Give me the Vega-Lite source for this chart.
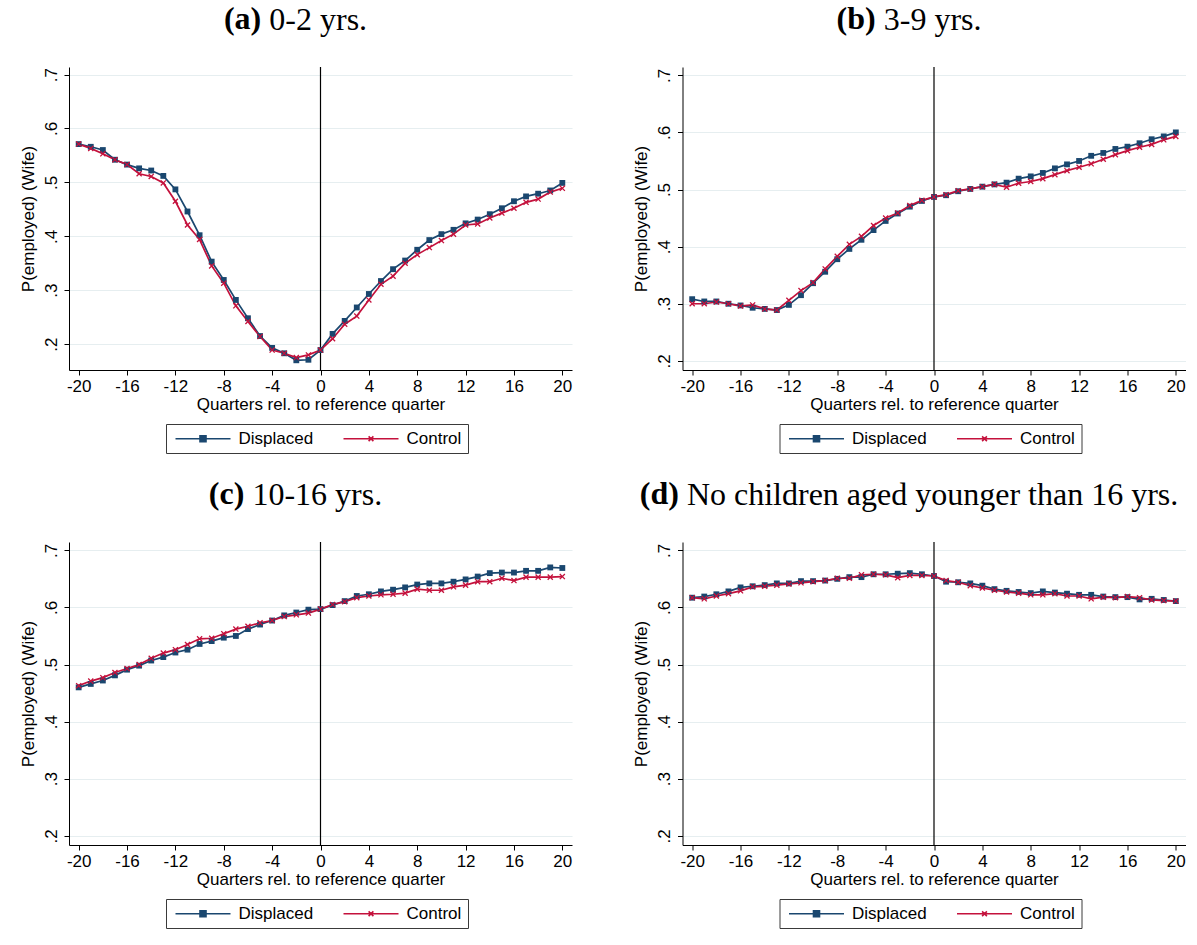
{
  "$schema": "https://vega.github.io/schema/vega-lite/v6.json",
  "background": "white",
  "padding": {"left": 18, "top": 3, "right": 0, "bottom": 0},
  "datasets": {
    "a": [
      {"q": -20, "Displaced": 0.571, "Control": 0.571}, {"q": -19, "Displaced": 0.566, "Control": 0.563},
      {"q": -18, "Displaced": 0.560, "Control": 0.553}, {"q": -17, "Displaced": 0.542, "Control": 0.542},
      {"q": -16, "Displaced": 0.533, "Control": 0.533}, {"q": -15, "Displaced": 0.526, "Control": 0.516},
      {"q": -14, "Displaced": 0.522, "Control": 0.511}, {"q": -13, "Displaced": 0.512, "Control": 0.499},
      {"q": -12, "Displaced": 0.487, "Control": 0.465}, {"q": -11, "Displaced": 0.446, "Control": 0.421},
      {"q": -10, "Displaced": 0.402, "Control": 0.394}, {"q": -9, "Displaced": 0.353, "Control": 0.345},
      {"q": -8, "Displaced": 0.319, "Control": 0.313}, {"q": -7, "Displaced": 0.282, "Control": 0.271},
      {"q": -6, "Displaced": 0.248, "Control": 0.242}, {"q": -5, "Displaced": 0.215, "Control": 0.214},
      {"q": -4, "Displaced": 0.193, "Control": 0.189}, {"q": -3, "Displaced": 0.183, "Control": 0.183},
      {"q": -2, "Displaced": 0.170, "Control": 0.175}, {"q": -1, "Displaced": 0.171, "Control": 0.180},
      {"q": 0, "Displaced": 0.189, "Control": 0.189}, {"q": 1, "Displaced": 0.219, "Control": 0.210},
      {"q": 2, "Displaced": 0.243, "Control": 0.237}, {"q": 3, "Displaced": 0.268, "Control": 0.252},
      {"q": 4, "Displaced": 0.293, "Control": 0.282}, {"q": 5, "Displaced": 0.317, "Control": 0.311},
      {"q": 6, "Displaced": 0.339, "Control": 0.326}, {"q": 7, "Displaced": 0.355, "Control": 0.350},
      {"q": 8, "Displaced": 0.375, "Control": 0.366}, {"q": 9, "Displaced": 0.393, "Control": 0.379},
      {"q": 10, "Displaced": 0.404, "Control": 0.392}, {"q": 11, "Displaced": 0.412, "Control": 0.404},
      {"q": 12, "Displaced": 0.424, "Control": 0.421}, {"q": 13, "Displaced": 0.431, "Control": 0.423},
      {"q": 14, "Displaced": 0.441, "Control": 0.434}, {"q": 15, "Displaced": 0.452, "Control": 0.443},
      {"q": 16, "Displaced": 0.465, "Control": 0.452}, {"q": 17, "Displaced": 0.474, "Control": 0.463},
      {"q": 18, "Displaced": 0.479, "Control": 0.469}, {"q": 19, "Displaced": 0.485, "Control": 0.482},
      {"q": 20, "Displaced": 0.499, "Control": 0.489}
    ],
    "b": [
      {"q": -20, "Displaced": 0.308, "Control": 0.300}, {"q": -19, "Displaced": 0.304, "Control": 0.300},
      {"q": -18, "Displaced": 0.304, "Control": 0.303}, {"q": -17, "Displaced": 0.300, "Control": 0.300},
      {"q": -16, "Displaced": 0.297, "Control": 0.296}, {"q": -15, "Displaced": 0.293, "Control": 0.298},
      {"q": -14, "Displaced": 0.291, "Control": 0.291}, {"q": -13, "Displaced": 0.289, "Control": 0.289},
      {"q": -12, "Displaced": 0.298, "Control": 0.306}, {"q": -11, "Displaced": 0.315, "Control": 0.323},
      {"q": -10, "Displaced": 0.336, "Control": 0.337}, {"q": -9, "Displaced": 0.356, "Control": 0.361},
      {"q": -8, "Displaced": 0.378, "Control": 0.383}, {"q": -7, "Displaced": 0.396, "Control": 0.404},
      {"q": -6, "Displaced": 0.412, "Control": 0.418}, {"q": -5, "Displaced": 0.429, "Control": 0.437},
      {"q": -4, "Displaced": 0.445, "Control": 0.450}, {"q": -3, "Displaced": 0.458, "Control": 0.459},
      {"q": -2, "Displaced": 0.470, "Control": 0.472}, {"q": -1, "Displaced": 0.480, "Control": 0.481},
      {"q": 0, "Displaced": 0.487, "Control": 0.487}, {"q": 1, "Displaced": 0.490, "Control": 0.491},
      {"q": 2, "Displaced": 0.497, "Control": 0.498}, {"q": 3, "Displaced": 0.501, "Control": 0.501},
      {"q": 4, "Displaced": 0.505, "Control": 0.505}, {"q": 5, "Displaced": 0.509, "Control": 0.509},
      {"q": 6, "Displaced": 0.512, "Control": 0.504}, {"q": 7, "Displaced": 0.519, "Control": 0.511},
      {"q": 8, "Displaced": 0.523, "Control": 0.514}, {"q": 9, "Displaced": 0.529, "Control": 0.519},
      {"q": 10, "Displaced": 0.537, "Control": 0.526}, {"q": 11, "Displaced": 0.544, "Control": 0.533},
      {"q": 12, "Displaced": 0.550, "Control": 0.539}, {"q": 13, "Displaced": 0.559, "Control": 0.545},
      {"q": 14, "Displaced": 0.564, "Control": 0.553}, {"q": 15, "Displaced": 0.571, "Control": 0.561},
      {"q": 16, "Displaced": 0.575, "Control": 0.568}, {"q": 17, "Displaced": 0.581, "Control": 0.574},
      {"q": 18, "Displaced": 0.588, "Control": 0.579}, {"q": 19, "Displaced": 0.593, "Control": 0.587},
      {"q": 20, "Displaced": 0.600, "Control": 0.593}
    ],
    "c": [
      {"q": -20, "Displaced": 0.460, "Control": 0.463}, {"q": -19, "Displaced": 0.466, "Control": 0.471},
      {"q": -18, "Displaced": 0.472, "Control": 0.477}, {"q": -17, "Displaced": 0.481, "Control": 0.486},
      {"q": -16, "Displaced": 0.491, "Control": 0.493}, {"q": -15, "Displaced": 0.498, "Control": 0.500},
      {"q": -14, "Displaced": 0.507, "Control": 0.511}, {"q": -13, "Displaced": 0.513, "Control": 0.520},
      {"q": -12, "Displaced": 0.521, "Control": 0.526}, {"q": -11, "Displaced": 0.526, "Control": 0.535},
      {"q": -10, "Displaced": 0.536, "Control": 0.545}, {"q": -9, "Displaced": 0.541, "Control": 0.546},
      {"q": -8, "Displaced": 0.547, "Control": 0.554}, {"q": -7, "Displaced": 0.550, "Control": 0.562},
      {"q": -6, "Displaced": 0.562, "Control": 0.567}, {"q": -5, "Displaced": 0.570, "Control": 0.573},
      {"q": -4, "Displaced": 0.577, "Control": 0.577}, {"q": -3, "Displaced": 0.586, "Control": 0.584},
      {"q": -2, "Displaced": 0.591, "Control": 0.587}, {"q": -1, "Displaced": 0.596, "Control": 0.590},
      {"q": 0, "Displaced": 0.597, "Control": 0.597}, {"q": 1, "Displaced": 0.604, "Control": 0.605},
      {"q": 2, "Displaced": 0.611, "Control": 0.610}, {"q": 3, "Displaced": 0.620, "Control": 0.617},
      {"q": 4, "Displaced": 0.623, "Control": 0.620}, {"q": 5, "Displaced": 0.628, "Control": 0.622},
      {"q": 6, "Displaced": 0.631, "Control": 0.623}, {"q": 7, "Displaced": 0.635, "Control": 0.625},
      {"q": 8, "Displaced": 0.640, "Control": 0.632}, {"q": 9, "Displaced": 0.642, "Control": 0.630},
      {"q": 10, "Displaced": 0.642, "Control": 0.630}, {"q": 11, "Displaced": 0.645, "Control": 0.636},
      {"q": 12, "Displaced": 0.649, "Control": 0.639}, {"q": 13, "Displaced": 0.654, "Control": 0.645},
      {"q": 14, "Displaced": 0.660, "Control": 0.645}, {"q": 15, "Displaced": 0.661, "Control": 0.651},
      {"q": 16, "Displaced": 0.661, "Control": 0.647}, {"q": 17, "Displaced": 0.664, "Control": 0.653},
      {"q": 18, "Displaced": 0.664, "Control": 0.653}, {"q": 19, "Displaced": 0.670, "Control": 0.653},
      {"q": 20, "Displaced": 0.669, "Control": 0.654}
    ],
    "d": [
      {"q": -20, "Displaced": 0.617, "Control": 0.617}, {"q": -19, "Displaced": 0.619, "Control": 0.615},
      {"q": -18, "Displaced": 0.623, "Control": 0.620}, {"q": -17, "Displaced": 0.628, "Control": 0.624},
      {"q": -16, "Displaced": 0.635, "Control": 0.629}, {"q": -15, "Displaced": 0.637, "Control": 0.636},
      {"q": -14, "Displaced": 0.639, "Control": 0.637}, {"q": -13, "Displaced": 0.642, "Control": 0.639},
      {"q": -12, "Displaced": 0.642, "Control": 0.641}, {"q": -11, "Displaced": 0.646, "Control": 0.643},
      {"q": -10, "Displaced": 0.646, "Control": 0.645}, {"q": -9, "Displaced": 0.647, "Control": 0.647},
      {"q": -8, "Displaced": 0.650, "Control": 0.651}, {"q": -7, "Displaced": 0.653, "Control": 0.651},
      {"q": -6, "Displaced": 0.653, "Control": 0.657}, {"q": -5, "Displaced": 0.658, "Control": 0.658},
      {"q": -4, "Displaced": 0.658, "Control": 0.657}, {"q": -3, "Displaced": 0.659, "Control": 0.652},
      {"q": -2, "Displaced": 0.660, "Control": 0.656}, {"q": -1, "Displaced": 0.658, "Control": 0.656},
      {"q": 0, "Displaced": 0.655, "Control": 0.655}, {"q": 1, "Displaced": 0.645, "Control": 0.647},
      {"q": 2, "Displaced": 0.644, "Control": 0.644}, {"q": 3, "Displaced": 0.642, "Control": 0.638},
      {"q": 4, "Displaced": 0.638, "Control": 0.634}, {"q": 5, "Displaced": 0.632, "Control": 0.630},
      {"q": 6, "Displaced": 0.629, "Control": 0.627}, {"q": 7, "Displaced": 0.627, "Control": 0.625},
      {"q": 8, "Displaced": 0.625, "Control": 0.622}, {"q": 9, "Displaced": 0.628, "Control": 0.622},
      {"q": 10, "Displaced": 0.626, "Control": 0.624}, {"q": 11, "Displaced": 0.624, "Control": 0.620},
      {"q": 12, "Displaced": 0.622, "Control": 0.620}, {"q": 13, "Displaced": 0.622, "Control": 0.615},
      {"q": 14, "Displaced": 0.619, "Control": 0.618}, {"q": 15, "Displaced": 0.618, "Control": 0.617},
      {"q": 16, "Displaced": 0.618, "Control": 0.619}, {"q": 17, "Displaced": 0.614, "Control": 0.617},
      {"q": 18, "Displaced": 0.615, "Control": 0.613}, {"q": 19, "Displaced": 0.613, "Control": 0.612},
      {"q": 20, "Displaced": 0.611, "Control": 0.611}
    ]
  },
  "spacing": 24,
  "resolve": {"scale": {"x": "independent", "y": "independent", "color": "independent"}, "legend": {"color": "independent"}},
  "vconcat": [
    {
      "spacing": 59.5,
      "resolve": {"scale": {"x": "independent", "y": "independent", "color": "independent"}, "legend": {"color": "independent"}},
      "hconcat": [
        {
          "title": {"text": "(a)", "fontWeight": "bold", "offset": 0, "dx": -52.9, "dy": 32},
          "resolve": {"scale": {"x": "independent", "y": "independent", "color": "independent"}, "legend": {"color": "independent"}},
          "vconcat": [
            {
              "title": {"text": "0-2 yrs.", "dx": 22.7, "offset": 29},
              "width": 503, "height": 303,
              "data": {"name": "a"},
              "layer": [
                {"data": {"values": [{"q": 0}]}, "mark": {"type": "rule", "color": "black", "strokeWidth": 1.2}, "encoding": {"x": {"field": "q", "type": "quantitative"}}},
                {
                  "transform": [{"fold": ["Displaced", "Control"], "as": ["s", "v"]}],
                  "mark": {"type": "line", "strokeWidth": 1.7},
                  "encoding": {
                    "x": {"field": "q", "type": "quantitative", "scale": {"domain": [-20.8, 20.8], "nice": false, "zero": false}, "axis": {"values": [-20, -16, -12, -8, -4, 0, 4, 8, 12, 16, 20], "labelExpr": "'' + datum.value", "title": "Quarters rel. to reference quarter", "grid": false}},
                    "y": {"field": "v", "type": "quantitative", "scale": {"domain": [0.152, 0.714], "nice": false, "zero": false}, "axis": {"values": [0.2, 0.3, 0.4, 0.5, 0.6, 0.7], "labelExpr": "replace(format(datum.value, '.1f'), '0.', '.')", "title": "P(employed) (Wife)", "labelAngle": 270, "labelAlign": "center", "labelBaseline": "bottom"}},
                    "color": {"field": "s", "type": "nominal", "sort": ["Displaced", "Control"], "scale": {"domain": ["Displaced", "Control"], "range": ["#1a476f", "#c4113c"]},
                      "legend": {"title": null, "orient": "none", "legendX": 97, "legendY": 357, "direction": "horizontal", "strokeColor": "#3a3a3a", "fillColor": "white", "padding": 6, "symbolSize": 100, "symbolOffset": 22.5, "labelOffset": 27, "columnPadding": 26, "labelFont": "Liberation Sans", "labelFontSize": 17, "labelColor": "black", "symbolStrokeWidth": 1.6,
                        "encode": {"symbols": {"update": {
                          "shape": {"signal": "datum.value === 'Displaced' ? 'M-5.5,0H5.5M-0.6,-0.6H0.6V0.6H-0.6Z' : 'M-5.5,0H5.5M-0.48,-0.48L0.48,0.48M-0.48,0.48L0.48,-0.48'"},
                          "fill": {"signal": "datum.value === 'Displaced' ? '#1a476f' : '#c4113c'"},
                          "stroke": {"signal": "datum.value === 'Displaced' ? '#1a476f' : '#c4113c'"}}}}}}
                  }
                },
                {"mark": {"type": "point", "shape": "square", "filled": true, "size": 34, "color": "#1a476f", "opacity": 1}, "encoding": {"x": {"field": "q", "type": "quantitative"}, "y": {"field": "Displaced", "type": "quantitative"}}},
                {"mark": {"type": "point", "shape": "M-1,-1L1,1M-1,1L1,-1", "filled": false, "size": 26, "strokeWidth": 1.3, "color": "#c4113c", "opacity": 1}, "encoding": {"x": {"field": "q", "type": "quantitative"}, "y": {"field": "Control", "type": "quantitative"}}}
              ]
            }
          ]
        },
        {
          "title": {"text": "(b)", "fontWeight": "bold", "offset": 0, "dx": -52.9, "dy": 32},
          "resolve": {"scale": {"x": "independent", "y": "independent", "color": "independent"}, "legend": {"color": "independent"}},
          "vconcat": [
            {
              "title": {"text": "3-9 yrs.", "dx": 23.6, "offset": 29},
              "width": 503, "height": 303,
              "data": {"name": "b"},
              "layer": [
                {"data": {"values": [{"q": 0}]}, "mark": {"type": "rule", "color": "black", "strokeWidth": 1.2}, "encoding": {"x": {"field": "q", "type": "quantitative"}}},
                {
                  "transform": [{"fold": ["Displaced", "Control"], "as": ["s", "v"]}],
                  "mark": {"type": "line", "strokeWidth": 1.7},
                  "encoding": {
                    "x": {"field": "q", "type": "quantitative", "scale": {"domain": [-20.8, 20.8], "nice": false, "zero": false}, "axis": {"values": [-20, -16, -12, -8, -4, 0, 4, 8, 12, 16, 20], "labelExpr": "'' + datum.value", "title": "Quarters rel. to reference quarter", "grid": false}},
                    "y": {"field": "v", "type": "quantitative", "scale": {"domain": [0.184, 0.7145], "nice": false, "zero": false}, "axis": {"values": [0.2, 0.3, 0.4, 0.5, 0.6, 0.7], "labelExpr": "replace(format(datum.value, '.1f'), '0.', '.')", "title": "P(employed) (Wife)", "labelAngle": 270, "labelAlign": "center", "labelBaseline": "bottom"}},
                    "color": {"field": "s", "type": "nominal", "sort": ["Displaced", "Control"], "scale": {"domain": ["Displaced", "Control"], "range": ["#1a476f", "#c4113c"]},
                      "legend": {"title": null, "orient": "none", "legendX": 97, "legendY": 357, "direction": "horizontal", "strokeColor": "#3a3a3a", "fillColor": "white", "padding": 6, "symbolSize": 100, "symbolOffset": 22.5, "labelOffset": 27, "columnPadding": 26, "labelFont": "Liberation Sans", "labelFontSize": 17, "labelColor": "black", "symbolStrokeWidth": 1.6,
                        "encode": {"symbols": {"update": {
                          "shape": {"signal": "datum.value === 'Displaced' ? 'M-5.5,0H5.5M-0.6,-0.6H0.6V0.6H-0.6Z' : 'M-5.5,0H5.5M-0.48,-0.48L0.48,0.48M-0.48,0.48L0.48,-0.48'"},
                          "fill": {"signal": "datum.value === 'Displaced' ? '#1a476f' : '#c4113c'"},
                          "stroke": {"signal": "datum.value === 'Displaced' ? '#1a476f' : '#c4113c'"}}}}}}
                  }
                },
                {"mark": {"type": "point", "shape": "square", "filled": true, "size": 34, "color": "#1a476f", "opacity": 1}, "encoding": {"x": {"field": "q", "type": "quantitative"}, "y": {"field": "Displaced", "type": "quantitative"}}},
                {"mark": {"type": "point", "shape": "M-1,-1L1,1M-1,1L1,-1", "filled": false, "size": 26, "strokeWidth": 1.3, "color": "#c4113c", "opacity": 1}, "encoding": {"x": {"field": "q", "type": "quantitative"}, "y": {"field": "Control", "type": "quantitative"}}}
              ]
            }
          ]
        }
      ]
    },
    {
      "spacing": 59.5,
      "resolve": {"scale": {"x": "independent", "y": "independent", "color": "independent"}, "legend": {"color": "independent"}},
      "hconcat": [
        {
          "title": {"text": "(c)", "fontWeight": "bold", "offset": 0, "dx": -68.9, "dy": 32},
          "resolve": {"scale": {"x": "independent", "y": "independent", "color": "independent"}, "legend": {"color": "independent"}},
          "vconcat": [
            {
              "title": {"text": "10-16 yrs.", "dx": 21.8, "offset": 29},
              "width": 503, "height": 303,
              "data": {"name": "c"},
              "layer": [
                {"data": {"values": [{"q": 0}]}, "mark": {"type": "rule", "color": "black", "strokeWidth": 1.2}, "encoding": {"x": {"field": "q", "type": "quantitative"}}},
                {
                  "transform": [{"fold": ["Displaced", "Control"], "as": ["s", "v"]}],
                  "mark": {"type": "line", "strokeWidth": 1.7},
                  "encoding": {
                    "x": {"field": "q", "type": "quantitative", "scale": {"domain": [-20.8, 20.8], "nice": false, "zero": false}, "axis": {"values": [-20, -16, -12, -8, -4, 0, 4, 8, 12, 16, 20], "labelExpr": "'' + datum.value", "title": "Quarters rel. to reference quarter", "grid": false}},
                    "y": {"field": "v", "type": "quantitative", "scale": {"domain": [0.184, 0.7145], "nice": false, "zero": false}, "axis": {"values": [0.2, 0.3, 0.4, 0.5, 0.6, 0.7], "labelExpr": "replace(format(datum.value, '.1f'), '0.', '.')", "title": "P(employed) (Wife)", "labelAngle": 270, "labelAlign": "center", "labelBaseline": "bottom"}},
                    "color": {"field": "s", "type": "nominal", "sort": ["Displaced", "Control"], "scale": {"domain": ["Displaced", "Control"], "range": ["#1a476f", "#c4113c"]},
                      "legend": {"title": null, "orient": "none", "legendX": 97, "legendY": 357, "direction": "horizontal", "strokeColor": "#3a3a3a", "fillColor": "white", "padding": 6, "symbolSize": 100, "symbolOffset": 22.5, "labelOffset": 27, "columnPadding": 26, "labelFont": "Liberation Sans", "labelFontSize": 17, "labelColor": "black", "symbolStrokeWidth": 1.6,
                        "encode": {"symbols": {"update": {
                          "shape": {"signal": "datum.value === 'Displaced' ? 'M-5.5,0H5.5M-0.6,-0.6H0.6V0.6H-0.6Z' : 'M-5.5,0H5.5M-0.48,-0.48L0.48,0.48M-0.48,0.48L0.48,-0.48'"},
                          "fill": {"signal": "datum.value === 'Displaced' ? '#1a476f' : '#c4113c'"},
                          "stroke": {"signal": "datum.value === 'Displaced' ? '#1a476f' : '#c4113c'"}}}}}}
                  }
                },
                {"mark": {"type": "point", "shape": "square", "filled": true, "size": 34, "color": "#1a476f", "opacity": 1}, "encoding": {"x": {"field": "q", "type": "quantitative"}, "y": {"field": "Displaced", "type": "quantitative"}}},
                {"mark": {"type": "point", "shape": "M-1,-1L1,1M-1,1L1,-1", "filled": false, "size": 26, "strokeWidth": 1.3, "color": "#c4113c", "opacity": 1}, "encoding": {"x": {"field": "q", "type": "quantitative"}, "y": {"field": "Control", "type": "quantitative"}}}
              ]
            }
          ]
        },
        {
          "title": {"text": "(d)", "fontWeight": "bold", "offset": 0, "dx": -249.7, "dy": 32},
          "resolve": {"scale": {"x": "independent", "y": "independent", "color": "independent"}, "legend": {"color": "independent"}},
          "vconcat": [
            {
              "title": {"text": "No children aged younger than 16 yrs.", "dx": 23.6, "offset": 29},
              "width": 503, "height": 303,
              "data": {"name": "d"},
              "layer": [
                {"data": {"values": [{"q": 0}]}, "mark": {"type": "rule", "color": "black", "strokeWidth": 1.2}, "encoding": {"x": {"field": "q", "type": "quantitative"}}},
                {
                  "transform": [{"fold": ["Displaced", "Control"], "as": ["s", "v"]}],
                  "mark": {"type": "line", "strokeWidth": 1.7},
                  "encoding": {
                    "x": {"field": "q", "type": "quantitative", "scale": {"domain": [-20.8, 20.8], "nice": false, "zero": false}, "axis": {"values": [-20, -16, -12, -8, -4, 0, 4, 8, 12, 16, 20], "labelExpr": "'' + datum.value", "title": "Quarters rel. to reference quarter", "grid": false}},
                    "y": {"field": "v", "type": "quantitative", "scale": {"domain": [0.184, 0.7145], "nice": false, "zero": false}, "axis": {"values": [0.2, 0.3, 0.4, 0.5, 0.6, 0.7], "labelExpr": "replace(format(datum.value, '.1f'), '0.', '.')", "title": "P(employed) (Wife)", "labelAngle": 270, "labelAlign": "center", "labelBaseline": "bottom"}},
                    "color": {"field": "s", "type": "nominal", "sort": ["Displaced", "Control"], "scale": {"domain": ["Displaced", "Control"], "range": ["#1a476f", "#c4113c"]},
                      "legend": {"title": null, "orient": "none", "legendX": 97, "legendY": 357, "direction": "horizontal", "strokeColor": "#3a3a3a", "fillColor": "white", "padding": 6, "symbolSize": 100, "symbolOffset": 22.5, "labelOffset": 27, "columnPadding": 26, "labelFont": "Liberation Sans", "labelFontSize": 17, "labelColor": "black", "symbolStrokeWidth": 1.6,
                        "encode": {"symbols": {"update": {
                          "shape": {"signal": "datum.value === 'Displaced' ? 'M-5.5,0H5.5M-0.6,-0.6H0.6V0.6H-0.6Z' : 'M-5.5,0H5.5M-0.48,-0.48L0.48,0.48M-0.48,0.48L0.48,-0.48'"},
                          "fill": {"signal": "datum.value === 'Displaced' ? '#1a476f' : '#c4113c'"},
                          "stroke": {"signal": "datum.value === 'Displaced' ? '#1a476f' : '#c4113c'"}}}}}}
                  }
                },
                {"mark": {"type": "point", "shape": "square", "filled": true, "size": 34, "color": "#1a476f", "opacity": 1}, "encoding": {"x": {"field": "q", "type": "quantitative"}, "y": {"field": "Displaced", "type": "quantitative"}}},
                {"mark": {"type": "point", "shape": "M-1,-1L1,1M-1,1L1,-1", "filled": false, "size": 26, "strokeWidth": 1.3, "color": "#c4113c", "opacity": 1}, "encoding": {"x": {"field": "q", "type": "quantitative"}, "y": {"field": "Control", "type": "quantitative"}}}
              ]
            }
          ]
        }
      ]
    }
  ],
  "config": {
    "font": "Liberation Sans",
    "view": {"stroke": null},
    "axis": {"domainColor": "black", "domainWidth": 1, "tickColor": "black", "tickWidth": 1, "tickSize": 5, "labelColor": "black", "titleColor": "black", "labelFont": "Liberation Sans", "titleFont": "Liberation Sans", "labelFontSize": 17, "titleFontSize": 17, "titleFontWeight": "normal"},
    "axisY": {"gridColor": "#e6eef0", "gridWidth": 1.2, "labelPadding": 4, "titlePadding": 5},
    "axisX": {"labelPadding": 3, "titlePadding": 2},
    "title": {"font": "Liberation Serif", "fontSize": 32, "fontWeight": "normal", "color": "black", "anchor": "middle", "frame": "bounds"}
  }
}
